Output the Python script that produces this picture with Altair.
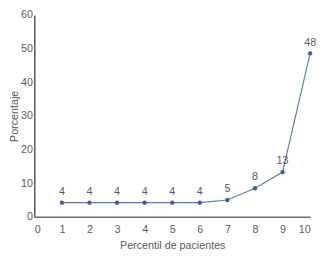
import altair as alt
import pandas as pd

percentil = [1, 2, 3, 4, 5, 6, 7, 8, 9, 10]
porcentaje = [4.2, 4.2, 4.2, 4.2, 4.2, 4.2, 5.0, 8.5, 13.3, 48.6]
etiquetas = ["4", "4", "4", "4", "4", "4", "5", "8", "13", "48"]

df = pd.DataFrame({"x": percentil, "y": porcentaje, "lab": etiquetas})

font = "Liberation Sans"
x = alt.X("x:Q", scale=alt.Scale(domain=[0, 10], nice=False),
          axis=alt.Axis(values=list(range(0, 11)), title="Percentil de pacientes",
                        grid=False, ticks=False, labelPadding=7, titlePadding=6,
                        domainColor="#6e6e6e", domainWidth=1.5,
                        labelColor="#5a5a5a", titleColor="#5a5a5a",
                        labelFontSize=11, titleFontSize=11, titleFontWeight="normal",
                        labelFont=font, titleFont=font))
y = alt.Y("y:Q", scale=alt.Scale(domain=[0, 60], nice=False),
          axis=alt.Axis(values=[0, 10, 20, 30, 40, 50, 60], title="Porcentaje",
                        grid=False, ticks=False, labelPadding=2,
                        titleX=-17, titleBaseline="alphabetic",
                        domainColor="#555555", domainWidth=1.5,
                        labelColor="#5a5a5a", titleColor="#5a5a5a",
                        labelFontSize=11, titleFontSize=11, titleFontWeight="normal",
                        labelFont=font, titleFont=font))

base = alt.Chart(df)
line = base.mark_line(color="#5a7db8", strokeWidth=1.2).encode(x=x, y=y)
pts = base.mark_point(filled=True, color="#3b5ea6", size=20, opacity=1).encode(x=x, y=y)
txt = base.mark_text(dy=-11, fontSize=11, color="#5a5a5a", font=font).encode(x=x, y=y, text="lab:N")

chart = alt.layer(line, pts, txt).properties(
    width=283, height=207,
    autosize=alt.AutoSizeParams(type="none"),
    padding={"left": 27, "top": 4, "right": 6, "bottom": 36},
).configure_view(stroke=None)

chart.save("out.html", embed_options={"renderer": "svg", "actions": False})
